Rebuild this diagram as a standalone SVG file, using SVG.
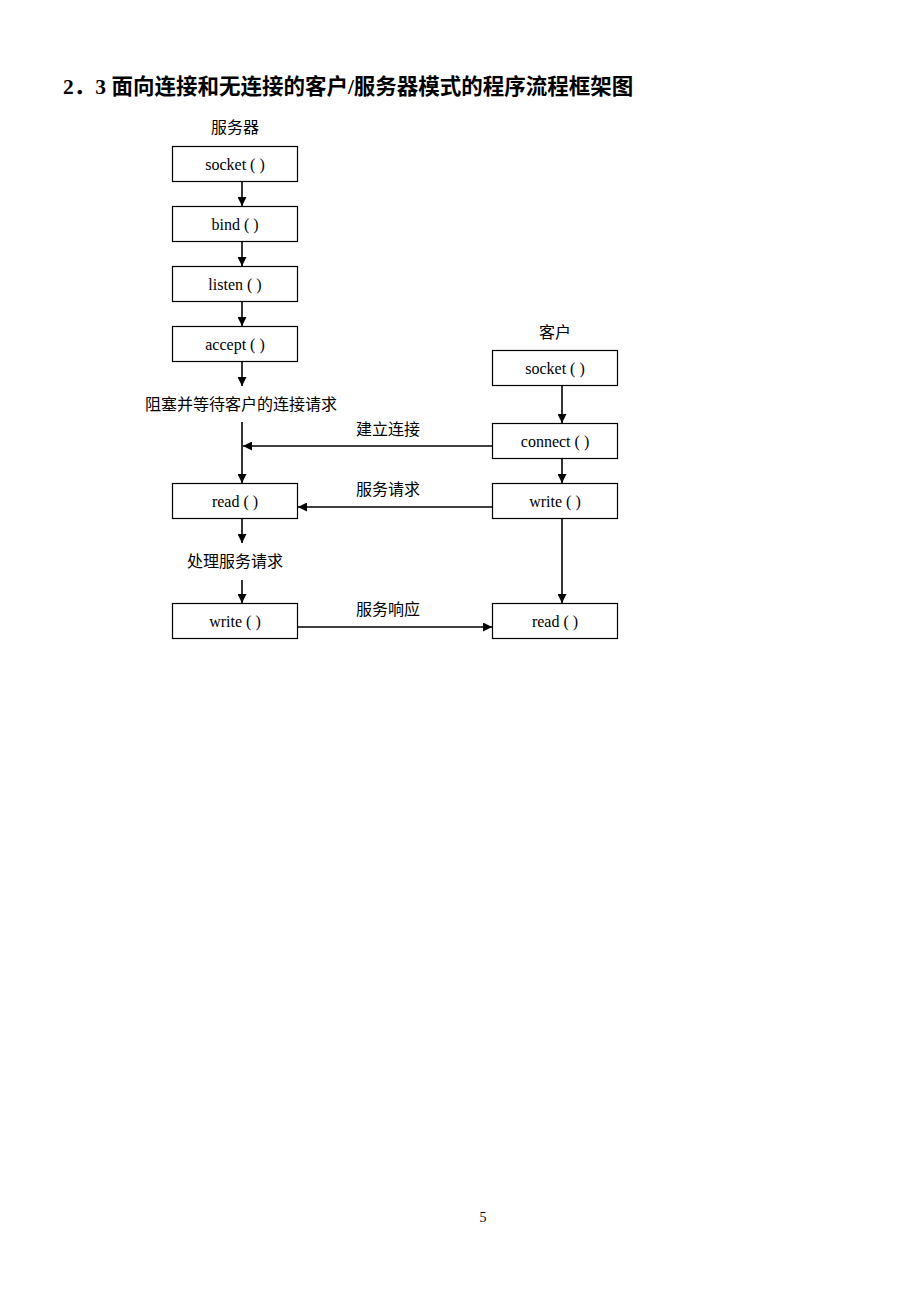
<svg xmlns="http://www.w3.org/2000/svg" width="920" height="1302" viewBox="0 0 920 1302">
<style>
.box{fill:#fff;stroke:#000;stroke-width:1.2}
.t{font-family:"Liberation Serif","Noto Sans CJK SC",serif;font-size:16px;text-anchor:middle;fill:#000}
.c{font-family:"Liberation Serif","Noto Sans CJK SC",serif;font-size:16px;fill:#000}
.ln{stroke:#000;stroke-width:1.6;fill:none;marker-end:url(#ah)}
</style>
<defs>
<marker id="ah" viewBox="0 0 10 10" refX="10" refY="5" markerWidth="9" markerHeight="9" markerUnits="userSpaceOnUse" orient="auto">
<path d="M0,0 L10,5 L0,10 z" fill="#000"/>
</marker>
</defs>
<rect width="920" height="1302" fill="#fff"/>
<text x="63" y="94" font-family="Liberation Serif,Noto Sans CJK SC,serif" font-size="21.5" font-weight="bold">2．3 面向连接和无连接的客户/服务器模式的程序流程框架图</text>
<text class="c" x="235" y="133" text-anchor="middle">服务器</text>
<text class="c" x="555" y="338" text-anchor="middle">客户</text>
<text class="c" x="145" y="410">阻塞并等待客户的连接请求</text>
<text class="c" x="235" y="567" text-anchor="middle">处理服务请求</text>
<text class="c" x="388" y="435" text-anchor="middle">建立连接</text>
<text class="c" x="388" y="495" text-anchor="middle">服务请求</text>
<text class="c" x="388" y="615" text-anchor="middle">服务响应</text>
<g id="s_socket"><rect class="box" x="172.5" y="146.5" width="125" height="35"/><text class="t" x="235" y="169.5">socket ( )</text></g>
<g id="s_bind"><rect class="box" x="172.5" y="206.5" width="125" height="35"/><text class="t" x="235" y="229.5">bind ( )</text></g>
<g id="s_listen"><rect class="box" x="172.5" y="266.5" width="125" height="35"/><text class="t" x="235" y="289.5">listen ( )</text></g>
<g id="s_accept"><rect class="box" x="172.5" y="326.5" width="125" height="35"/><text class="t" x="235" y="349.5">accept ( )</text></g>
<g id="s_read"><rect class="box" x="172.5" y="483.5" width="125" height="35"/><text class="t" x="235" y="506.5">read ( )</text></g>
<g id="s_write"><rect class="box" x="172.5" y="603.5" width="125" height="35"/><text class="t" x="235" y="626.5">write ( )</text></g>
<g id="c_socket"><rect class="box" x="492.5" y="350.5" width="125" height="35"/><text class="t" x="555" y="373.5">socket ( )</text></g>
<g id="c_connect"><rect class="box" x="492.5" y="423.5" width="125" height="35"/><text class="t" x="555" y="446.5">connect ( )</text></g>
<g id="c_write"><rect class="box" x="492.5" y="483.5" width="125" height="35"/><text class="t" x="555" y="506.5">write ( )</text></g>
<g id="c_read"><rect class="box" x="492.5" y="603.5" width="125" height="35"/><text class="t" x="555" y="626.5">read ( )</text></g>
<g id="connectors">
<line class="ln" x1="242" y1="182" x2="242" y2="206"/>
<line class="ln" x1="242" y1="242" x2="242" y2="266"/>
<line class="ln" x1="242" y1="302" x2="242" y2="326"/>
<line class="ln" x1="242" y1="362" x2="242" y2="386"/>
<line class="ln" x1="242" y1="422" x2="242" y2="483"/>
<line class="ln" x1="492" y1="446" x2="243" y2="446"/>
<line class="ln" x1="492" y1="507" x2="298" y2="507"/>
<line class="ln" x1="242" y1="519" x2="242" y2="543"/>
<line class="ln" x1="242" y1="580" x2="242" y2="603"/>
<line class="ln" x1="298" y1="627" x2="492" y2="627"/>
<line class="ln" x1="562" y1="386" x2="562" y2="423"/>
<line class="ln" x1="562" y1="459" x2="562" y2="483"/>
<line class="ln" x1="562" y1="519" x2="562" y2="603"/>
</g>
<text x="483" y="1222" font-family="Liberation Serif,serif" font-size="14" text-anchor="middle">5</text>
</svg>
